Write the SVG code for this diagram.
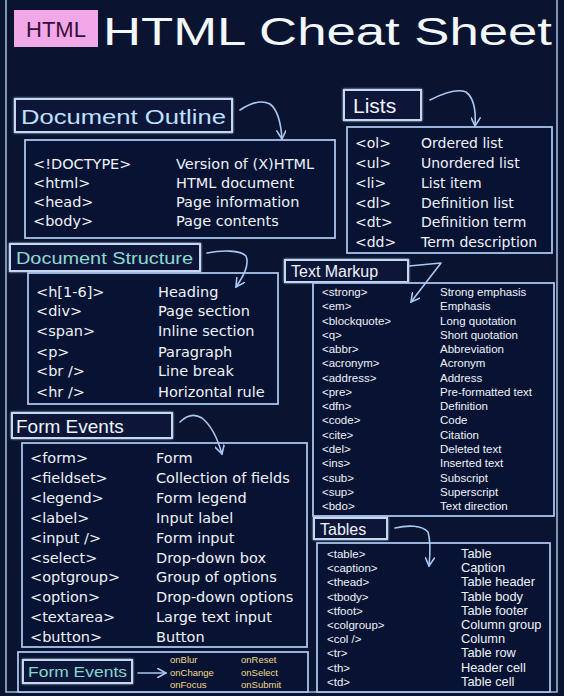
<svg xmlns="http://www.w3.org/2000/svg" width="564" height="696" viewBox="0 0 564 696">
<defs>
<style>
.bg{fill:#0a1430}
.frame{fill:none;stroke:#9fb6d8;stroke-width:1.6}
.hbox{fill:#0b1838;stroke:#c4d8f0;stroke-width:2}
.cbox{fill:#081232;stroke:#a8c4ec;stroke-width:1.8}
.t{font-family:"DejaVu Sans","Liberation Sans",sans-serif;fill:#eef3fa}
.s{font-family:"Liberation Sans",Arial,sans-serif;fill:#eef3fa}
.r15{font-size:14.5px}
.r14{font-size:14px}
.r12{font-size:11.5px}
.h{font-family:"Liberation Sans",Arial,sans-serif}
.arrow{fill:none;stroke:#a9c8f2;stroke-width:1.6;stroke-linecap:round;stroke-linejoin:round}
.ev{font-family:"Liberation Sans",Arial,sans-serif;font-size:9.5px;fill:#f2d98c}
</style>
<marker id="ah" viewBox="0 0 10 10" refX="9" refY="5" markerWidth="10" markerHeight="10" orient="auto" markerUnits="userSpaceOnUse">
<path d="M0,0 L9,5 L0,10" fill="none" stroke="#a9c8f2" stroke-width="1.6"/>
</marker>
<filter id="glow" x="-10%" y="-10%" width="120%" height="120%">
<feGaussianBlur stdDeviation="1.2" result="b"/>
<feMerge><feMergeNode in="b"/><feMergeNode in="SourceGraphic"/></feMerge>
</filter>
</defs>
<rect class="bg" x="0" y="0" width="564" height="696"/>
<path class="frame" d="M6,0 V692 H557 V0"/>

<g id="title">
<rect x="14" y="10" width="84" height="37" fill="#f0a8e8"/>
<text x="56" y="37" text-anchor="middle" class="h" font-size="22" fill="#3a0d38">HTML</text>
<text x="103" y="45" class="h" font-size="38" fill="#f2f8fa" textLength="449" lengthAdjust="spacingAndGlyphs">HTML Cheat Sheet</text>
</g>

<g id="document-outline">
<rect class="hbox" x="15" y="99" width="217" height="33" filter="url(#glow)"/>
<text x="21" y="124" class="h" font-size="21" fill="#bde2ff" textLength="205" lengthAdjust="spacingAndGlyphs">Document Outline</text>
<rect class="cbox" x="25" y="140" width="310" height="98"/>
<g class="t r15">
<text x="33" y="169">&lt;!DOCTYPE&gt;</text>
<text x="33" y="188">&lt;html&gt;</text>
<text x="33" y="207">&lt;head&gt;</text>
<text x="33" y="226">&lt;body&gt;</text>
<text x="176" y="169">Version of (X)HTML</text>
<text x="176" y="188">HTML document</text>
<text x="176" y="207">Page information</text>
<text x="176" y="226">Page contents</text>
</g>
</g>

<g id="lists">
<rect class="hbox" x="344" y="90" width="77" height="30" filter="url(#glow)"/>
<text x="353" y="113" class="h" font-size="21" fill="#eef3fa">Lists</text>
<rect class="cbox" x="347" y="127" width="205" height="126"/>
<g class="t r14">
<text x="355" y="148">&lt;ol&gt;</text>
<text x="355" y="168">&lt;ul&gt;</text>
<text x="355" y="188">&lt;li&gt;</text>
<text x="355" y="208">&lt;dl&gt;</text>
<text x="355" y="227">&lt;dt&gt;</text>
<text x="355" y="247">&lt;dd&gt;</text>
<text x="421" y="148">Ordered list</text>
<text x="421" y="168">Unordered list</text>
<text x="421" y="188">List item</text>
<text x="421" y="208">Definition list</text>
<text x="421" y="227">Definition term</text>
<text x="421" y="247">Term description</text>
</g>
</g>

<g id="document-structure">
<rect class="hbox" x="10" y="244" width="190" height="27" filter="url(#glow)"/>
<text x="16" y="264" class="h" font-size="16" fill="#8fdad0" textLength="177" lengthAdjust="spacingAndGlyphs">Document Structure</text>
<rect class="cbox" x="28" y="273" width="250" height="131"/>
<g class="t r15">
<text x="36" y="297">&lt;h[1-6]&gt;</text>
<text x="36" y="316">&lt;div&gt;</text>
<text x="36" y="336">&lt;span&gt;</text>
<text x="36" y="357">&lt;p&gt;</text>
<text x="36" y="376">&lt;br /&gt;</text>
<text x="36" y="397">&lt;hr /&gt;</text>
<text x="158" y="297">Heading</text>
<text x="158" y="316">Page section</text>
<text x="158" y="336">Inline section</text>
<text x="158" y="357">Paragraph</text>
<text x="158" y="376">Line break</text>
<text x="158" y="397">Horizontal rule</text>
</g>
</g>

<g id="text-markup">
<rect class="hbox" x="285" y="260" width="123" height="22" filter="url(#glow)"/>
<text x="291" y="277" class="h" font-size="16" fill="#eef3fa">Text Markup</text>
<rect class="cbox" x="313" y="283" width="241" height="233"/>
<g class="s r12">
<text x="322" y="296">&lt;strong&gt;</text>
<text x="322" y="310">&lt;em&gt;</text>
<text x="322" y="325">&lt;blockquote&gt;</text>
<text x="322" y="339">&lt;q&gt;</text>
<text x="322" y="353">&lt;abbr&gt;</text>
<text x="322" y="367">&lt;acronym&gt;</text>
<text x="322" y="382">&lt;address&gt;</text>
<text x="322" y="396">&lt;pre&gt;</text>
<text x="322" y="410">&lt;dfn&gt;</text>
<text x="322" y="424">&lt;code&gt;</text>
<text x="322" y="439">&lt;cite&gt;</text>
<text x="322" y="453">&lt;del&gt;</text>
<text x="322" y="467">&lt;ins&gt;</text>
<text x="322" y="482">&lt;sub&gt;</text>
<text x="322" y="496">&lt;sup&gt;</text>
<text x="322" y="510">&lt;bdo&gt;</text>
<text x="440" y="296">Strong emphasis</text>
<text x="440" y="310">Emphasis</text>
<text x="440" y="325">Long quotation</text>
<text x="440" y="339">Short quotation</text>
<text x="440" y="353">Abbreviation</text>
<text x="440" y="367">Acronym</text>
<text x="440" y="382">Address</text>
<text x="440" y="396">Pre-formatted text</text>
<text x="440" y="410">Definition</text>
<text x="440" y="424">Code</text>
<text x="440" y="439">Citation</text>
<text x="440" y="453">Deleted text</text>
<text x="440" y="467">Inserted text</text>
<text x="440" y="482">Subscript</text>
<text x="440" y="496">Superscript</text>
<text x="440" y="510">Text direction</text>
</g>
</g>

<g id="form-events">
<rect class="hbox" x="12" y="413" width="160" height="25" filter="url(#glow)"/>
<text x="16" y="433" class="h" font-size="19" fill="#eef3fa">Form Events</text>
<rect class="cbox" x="22" y="443" width="285" height="204"/>
<g class="t r15">
<text x="30" y="463">&lt;form&gt;</text>
<text x="30" y="483">&lt;fieldset&gt;</text>
<text x="30" y="503">&lt;legend&gt;</text>
<text x="30" y="523">&lt;label&gt;</text>
<text x="30" y="543">&lt;input /&gt;</text>
<text x="30" y="563">&lt;select&gt;</text>
<text x="30" y="582">&lt;optgroup&gt;</text>
<text x="30" y="602">&lt;option&gt;</text>
<text x="30" y="622">&lt;textarea&gt;</text>
<text x="30" y="642">&lt;button&gt;</text>
<text x="156" y="463">Form</text>
<text x="156" y="483">Collection of fields</text>
<text x="156" y="503">Form legend</text>
<text x="156" y="523">Input label</text>
<text x="156" y="543">Form input</text>
<text x="156" y="563">Drop-down box</text>
<text x="156" y="582">Group of options</text>
<text x="156" y="602">Drop-down options</text>
<text x="156" y="622">Large text input</text>
<text x="156" y="642">Button</text>
</g>
</g>

<g id="tables">
<rect class="hbox" x="314" y="518" width="73" height="21" filter="url(#glow)"/>
<text x="320" y="535" class="h" font-size="16" fill="#eef3fa">Tables</text>
<rect class="cbox" x="317" y="543" width="233" height="149"/>
<g class="s r12">
<text x="327" y="558">&lt;table&gt;</text>
<text x="327" y="572">&lt;caption&gt;</text>
<text x="327" y="586">&lt;thead&gt;</text>
<text x="327" y="601">&lt;tbody&gt;</text>
<text x="327" y="615">&lt;tfoot&gt;</text>
<text x="327" y="629">&lt;colgroup&gt;</text>
<text x="327" y="643">&lt;col /&gt;</text>
<text x="327" y="657">&lt;tr&gt;</text>
<text x="327" y="672">&lt;th&gt;</text>
<text x="327" y="686">&lt;td&gt;</text>
</g>
<g class="s" font-size="12.8">
<text x="461" y="558">Table</text>
<text x="461" y="572">Caption</text>
<text x="461" y="586">Table header</text>
<text x="461" y="601">Table body</text>
<text x="461" y="615">Table footer</text>
<text x="461" y="629">Column group</text>
<text x="461" y="643">Column</text>
<text x="461" y="657">Table row</text>
<text x="461" y="672">Header cell</text>
<text x="461" y="686">Table cell</text>
</g>
</g>

<g id="form-events-list">
<rect class="cbox" x="18" y="652" width="290" height="40"/>
<rect class="hbox" x="23" y="660" width="109" height="23" filter="url(#glow)"/>
<text x="28" y="677" class="h" font-size="15" fill="#84d8cf" textLength="99" lengthAdjust="spacingAndGlyphs">Form Events</text>
<text x="170" y="663" class="ev">onBlur</text>
<text x="170" y="676" class="ev">onChange</text>
<text x="170" y="688" class="ev">onFocus</text>
<text x="241" y="663" class="ev">onReset</text>
<text x="241" y="676" class="ev">onSelect</text>
<text x="241" y="688" class="ev">onSubmit</text>
</g>

<g id="connectors">
<path class="arrow" d="M240,110 C252,102 262,100 270,104 C278,110 281,124 282,139" marker-end="url(#ah)"/>
<path class="arrow" d="M430,100 C442,94 456,88 466,92 C474,98 476,112 475,126" marker-end="url(#ah)"/>
<path class="arrow" d="M207,253 C222,250 240,250 246,256 C250,266 242,278 236,287" marker-end="url(#ah)"/>
<path class="arrow" d="M409,266 L441,263 L411,302" marker-end="url(#ah)"/>
<path class="arrow" d="M180,422 C186,416 194,413 202,418 C212,426 218,440 222,454" marker-end="url(#ah)"/>
<path class="arrow" d="M395,528 C408,525 422,525 428,532 C431,542 430,556 429,566" marker-end="url(#ah)"/>
<path class="arrow" d="M138,673 L166,673" marker-end="url(#ah)"/>
</g>
</svg>
